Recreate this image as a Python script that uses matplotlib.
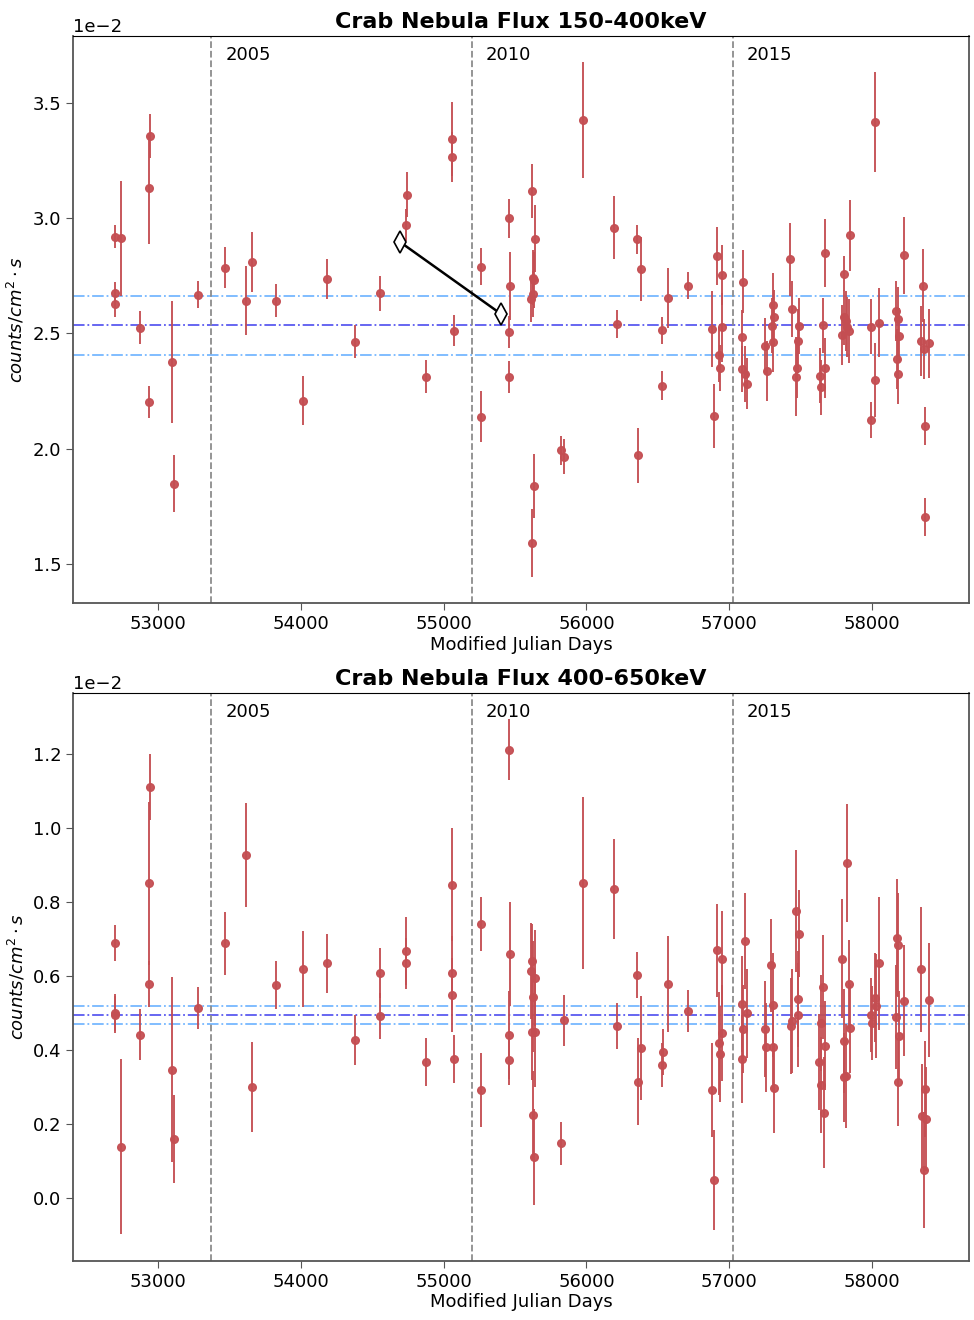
import matplotlib
matplotlib.use("Agg")
import matplotlib.pyplot as plt
import numpy as np

SCALE = 1e-2

# ---------------- 150-400 keV ----------------
mjd_lo = [52701, 52701, 52701, 52741, 52874, 52939, 52939, 52946, 53098, 53112,
          53282, 53466, 53618, 53660, 53828, 54012, 54185, 54376, 54556, 54743,
          54740, 54880, 55062, 55058, 55074, 55263, 55265, 55459, 55464, 55459,
          55459, 55618, 55638, 55624, 55636, 55629, 55611, 55622, 55633, 55821,
          55844, 55975, 56194, 56213, 56355, 56360, 56383, 56530, 56532, 56574,
          56710, 56882, 56892, 56917, 56931, 56936, 56948, 56952, 57099, 57088,
          57092, 57111, 57123, 57253, 57263, 57305, 57312, 57298, 57309, 57428,
          57440, 57491, 57482, 57477, 57468, 57673, 57655, 57669, 57636, 57641,
          57848, 57802, 57804, 57816, 57825, 57839, 57792, 57993, 58049, 58021,
          57995, 58019, 58222, 58166, 58184, 58189, 58177, 58182, 58355, 58341,
          58366, 58401, 58371, 58373]
flux_lo = [2.919, 2.674, 2.627, 2.912, 2.525, 3.129, 2.202, 3.355, 2.376, 1.848,
           2.668, 2.785, 2.642, 2.809, 2.642, 2.208, 2.736, 2.464, 2.674, 3.101,
           2.971, 2.312, 3.344, 3.264, 2.511, 2.139, 2.789, 2.999, 2.704, 2.507,
           2.311, 3.117, 2.910, 2.742, 2.732, 2.669, 2.648, 1.590, 1.837, 1.993,
           1.966, 3.425, 2.958, 2.541, 2.908, 1.971, 2.780, 2.273, 2.513, 2.652,
           2.707, 2.519, 2.142, 2.835, 2.408, 2.351, 2.751, 2.526, 2.724, 2.483,
           2.344, 2.324, 2.282, 2.445, 2.335, 2.623, 2.570, 2.533, 2.461, 2.821,
           2.606, 2.532, 2.467, 2.350, 2.312, 2.849, 2.535, 2.350, 2.316, 2.266,
           2.925, 2.759, 2.570, 2.555, 2.526, 2.510, 2.492, 2.529, 2.546, 2.298,
           2.125, 3.416, 2.838, 2.598, 2.561, 2.490, 2.387, 2.324, 2.707, 2.467,
           2.433, 2.457, 2.098, 1.703]
err_lo = [0.050, 0.050, 0.056, 0.250, 0.070, 0.240, 0.070, 0.094, 0.266, 0.124,
          0.060, 0.090, 0.150, 0.130, 0.072, 0.107, 0.087, 0.071, 0.075, 0.097,
          0.070, 0.072, 0.160, 0.110, 0.068, 0.110, 0.080, 0.084, 0.147, 0.070,
          0.070, 0.116, 0.146, 0.120, 0.120, 0.100, 0.100, 0.148, 0.139, 0.062,
          0.074, 0.250, 0.137, 0.060, 0.062, 0.120, 0.139, 0.064, 0.060, 0.130,
          0.058, 0.165, 0.139, 0.127, 0.120, 0.100, 0.130, 0.150, 0.137, 0.120,
          0.100, 0.120, 0.110, 0.120, 0.130, 0.140, 0.120, 0.120, 0.130, 0.159,
          0.120, 0.120, 0.140, 0.130, 0.170, 0.146, 0.120, 0.130, 0.120, 0.120,
          0.153, 0.077, 0.120, 0.130, 0.130, 0.140, 0.130, 0.120, 0.150, 0.160,
          0.077, 0.218, 0.168, 0.130, 0.140, 0.120, 0.130, 0.130, 0.157, 0.150,
          0.130, 0.150, 0.081, 0.082]
mean_lo = 2.535

# ---------------- 400-650 keV ----------------
mjd_hi = [52701, 52701, 52701, 52741, 52874, 52939, 52939, 52946, 53098, 53112,
          53282, 53466, 53618, 53660, 53828, 54012, 54185, 54376, 54556, 54556,
          54740, 54740, 54880, 55062, 55060, 55060, 55074, 55263, 55263, 55459,
          55464, 55457, 55457, 55618, 55611, 55641, 55625, 55622, 55641, 55625,
          55632, 55821, 55842, 55975, 56194, 56213, 56355, 56360, 56385, 56535,
          56530, 56574, 56710, 56882, 56891, 56917, 56948, 56952, 56931, 56936,
          57111, 57088, 57123, 57099, 57092, 57295, 57305, 57253, 57260, 57309,
          57312, 57466, 57491, 57482, 57480, 57442, 57431, 57655, 57643, 57673,
          57631, 57641, 57666, 57792, 57827, 57837, 57848, 57802, 57816, 57802,
          58049, 58019, 58026, 57993, 57998, 58175, 58184, 58224, 58166, 58189,
          58182, 58340, 58401, 58373, 58352, 58376, 58364]
flux_hi = [0.690, 0.501, 0.495, 0.139, 0.442, 0.851, 0.578, 1.110, 0.347, 0.161,
           0.514, 0.688, 0.927, 0.301, 0.576, 0.619, 0.634, 0.428, 0.609, 0.491,
           0.668, 0.634, 0.368, 0.847, 0.607, 0.548, 0.376, 0.741, 0.292, 1.212,
           0.660, 0.441, 0.374, 0.640, 0.614, 0.594, 0.544, 0.450, 0.450, 0.224,
           0.112, 0.148, 0.481, 0.852, 0.835, 0.465, 0.603, 0.315, 0.406, 0.395,
           0.359, 0.579, 0.505, 0.292, 0.050, 0.670, 0.646, 0.446, 0.418, 0.389,
           0.694, 0.524, 0.499, 0.457, 0.376, 0.629, 0.522, 0.457, 0.408, 0.409,
           0.297, 0.776, 0.715, 0.538, 0.495, 0.478, 0.465, 0.571, 0.474, 0.412,
           0.367, 0.305, 0.231, 0.647, 0.905, 0.578, 0.459, 0.425, 0.330, 0.326,
           0.634, 0.542, 0.519, 0.496, 0.472, 0.704, 0.684, 0.534, 0.490, 0.439,
           0.314, 0.618, 0.535, 0.294, 0.222, 0.214, 0.076]
err_hi = [0.048, 0.050, 0.050, 0.236, 0.068, 0.220, 0.062, 0.089, 0.250, 0.119,
          0.056, 0.084, 0.140, 0.122, 0.065, 0.103, 0.081, 0.068, 0.067, 0.062,
          0.091, 0.070, 0.066, 0.152, 0.100, 0.100, 0.065, 0.073, 0.100, 0.082,
          0.141, 0.120, 0.068, 0.100, 0.130, 0.130, 0.150, 0.130, 0.150, 0.120,
          0.130, 0.059, 0.069, 0.233, 0.135, 0.063, 0.063, 0.118, 0.140, 0.063,
          0.060, 0.130, 0.057, 0.127, 0.135, 0.126, 0.130, 0.130, 0.140, 0.130,
          0.130, 0.130, 0.120, 0.120, 0.120, 0.126, 0.140, 0.130, 0.120, 0.120,
          0.120, 0.165, 0.117, 0.130, 0.140, 0.140, 0.130, 0.140, 0.130, 0.120,
          0.130, 0.130, 0.150, 0.160, 0.160, 0.120, 0.120, 0.140, 0.140, 0.120,
          0.180, 0.120, 0.140, 0.100, 0.100, 0.158, 0.140, 0.150, 0.140, 0.120,
          0.120, 0.168, 0.153, 0.130, 0.140, 0.140, 0.157]
mean_hi = 0.4946

# year boundaries
year_mjd = [53371, 55197, 57023]
year_labels = ["2005", "2010", "2015"]

# diamond-marked segment in the upper panel
seg_mjd = [54695, 55402]
seg_flux = [2.896, 2.584]

titles = ["Crab Nebula Flux 150-400keV", "Crab Nebula Flux 400-650keV"]

RED = "#c44e52"

fig = plt.figure(figsize=(9.74, 13.2), dpi=100)
ax1 = fig.add_axes([0.075, 0.5432, 0.92, 0.4295])
ax2 = fig.add_axes([0.075, 0.0449, 0.92, 0.4299])

panels = [
    (ax1, mjd_lo, flux_lo, err_lo, mean_lo, (1.331, 3.789)),
    (ax2, mjd_hi, flux_hi, err_hi, mean_hi, (-0.169, 1.364)),
]

for i, (ax, t, f, e, m, yl) in enumerate(panels):
    f = np.array(f) * SCALE
    e = np.array(e) * SCALE
    ax.errorbar(t, f, yerr=e, fmt="o", color=RED, ecolor=RED, ms=5.5,
                elinewidth=1.4, capsize=0, alpha=0.95, zorder=3)
    ax.axhline(m * SCALE, color="#5a5af0", ls="-.", lw=1.3, zorder=1)
    ax.axhline(m * 1.05 * SCALE, color="#76b8ff", ls="-.", lw=1.3, zorder=1)
    ax.axhline(m * 0.95 * SCALE, color="#76b8ff", ls="-.", lw=1.3, zorder=1)
    for ym, lab in zip(year_mjd, year_labels):
        ax.axvline(ym, color="#8c8c8c", ls="--", lw=1.3, zorder=1)
        ax.text(ym + 100, 0.967, lab, transform=ax.get_xaxis_transform(),
                fontsize=13, va="center", ha="left")
    ax.set_xlim(52405, 58680)
    ax.set_ylim(yl[0] * SCALE, yl[1] * SCALE)
    ax.ticklabel_format(axis="y", style="sci", scilimits=(0, 0))
    ax.yaxis.get_offset_text().set_fontsize(13)
    ax.tick_params(labelsize=13, color="#555555", length=5)
    ax.set_xlabel("Modified Julian Days", fontsize=13, labelpad=2)
    ax.set_ylabel(r"$counts/cm^2 \cdot s$", fontsize=13)
    ax.set_title(titles[i], fontsize=16, fontweight="bold", pad=6)
    for s in ["left", "bottom", "right"]:
        ax.spines[s].set_color("#555555")
        ax.spines[s].set_linewidth(1.3)
    ax.spines["top"].set_color("black")

ax1.plot(np.array(seg_mjd), np.array(seg_flux) * SCALE, color="black", lw=1.8,
         marker="d", ms=11, mfc="white", mec="black", mew=1.2, zorder=4)

fig.savefig("out.png", dpi=100)
